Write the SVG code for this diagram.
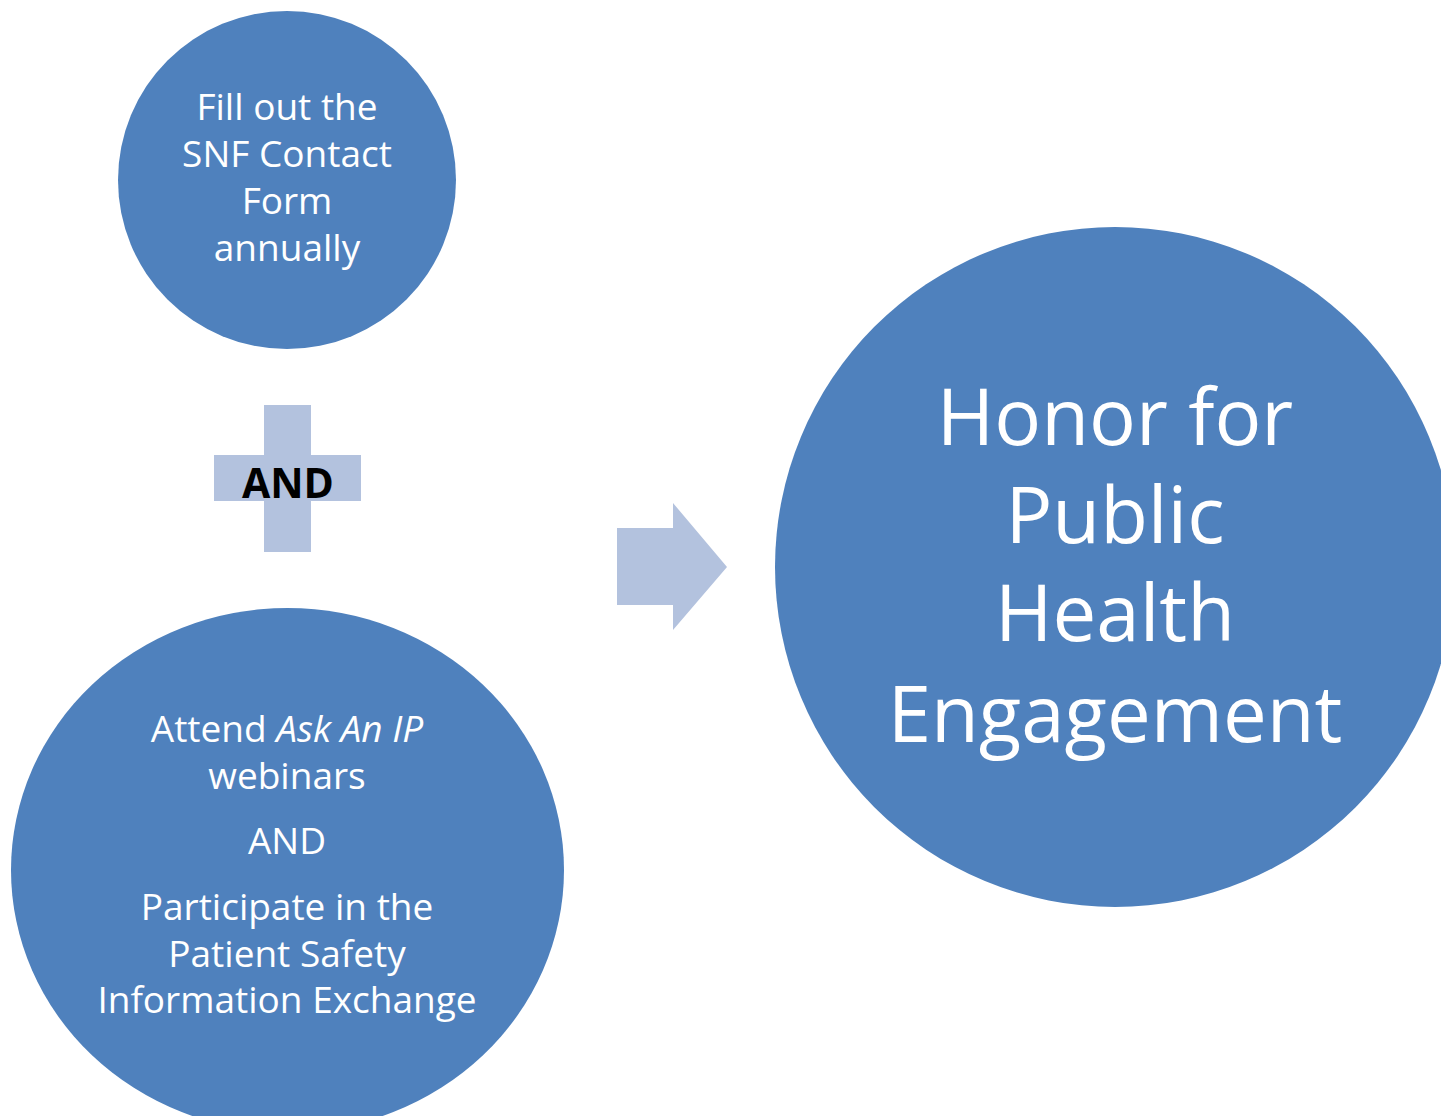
<svg xmlns="http://www.w3.org/2000/svg" width="1441" height="1116" viewBox="0 0 1441 1116">
<style>
.node{fill:#4F81BD}
.light{fill:#B3C2DE}
.t{font-family:"Open Sans","Noto Sans",sans-serif;fill:#FFFFFF;text-anchor:middle}
.s{font-size:37px}
.b{font-size:78px}
.and{font-family:"Open Sans","Noto Sans",sans-serif;font-weight:bold;font-size:41px;fill:#000000;text-anchor:middle}
</style>
<rect width="1441" height="1116" fill="#FFFFFF"/>
<g id="node-snf">
<circle class="node" cx="287" cy="180" r="169"/>
<text class="t s" x="287" y="120">Fill out the</text>
<text class="t s" x="287" y="167">SNF Contact</text>
<text class="t s" x="287" y="214">Form</text>
<text class="t s" x="287" y="261">annually</text>
</g>
<g id="node-plus">
<rect class="light" x="264" y="405" width="47" height="147"/>
<rect class="light" x="214" y="455" width="147" height="46"/>
<text class="and" x="288" y="498">AND</text>
</g>
<g id="node-webinars">
<ellipse class="node" cx="287.5" cy="870" rx="276.5" ry="262"/>
<text class="t s" x="287" y="742">Attend <tspan font-style="italic">Ask An IP</tspan></text>
<text class="t s" x="287" y="789">webinars</text>
<text class="t s" x="287" y="854">AND</text>
<text class="t s" x="287" y="920">Participate in the</text>
<text class="t s" x="287" y="967">Patient Safety</text>
<text class="t s" x="287" y="1013">Information Exchange</text>
</g>
<g id="connectors">
<polygon class="light" points="617,528 673,528 673,503 727,567 673,630 673,605 617,605"/>
</g>
<g id="node-honor">
<circle class="node" cx="1115" cy="567" r="340"/>
<text class="t b" x="1115" y="445">Honor for</text>
<text class="t b" x="1115" y="543">Public</text>
<text class="t b" x="1115" y="641">Health</text>
<text class="t b" x="1115" y="742">Engagement</text>
</g>
</svg>
